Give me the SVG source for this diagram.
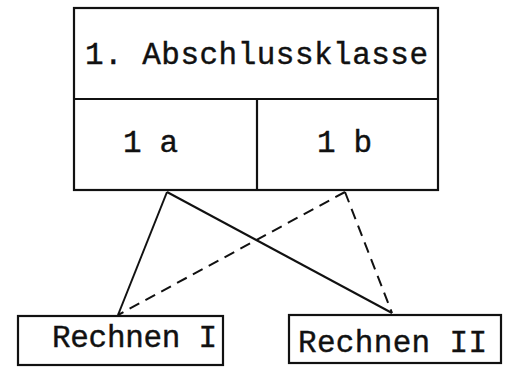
<svg xmlns="http://www.w3.org/2000/svg" width="510" height="369" viewBox="0 0 510 369">
  <style>
    .box { fill: none; stroke: #111; stroke-width: 2.2; }
    .lbl { font-family: "Liberation Mono", "DejaVu Sans Mono", monospace; font-size: 31px; fill: #111; stroke: #111; stroke-width: 0.4; }
    .edge { stroke: #111; stroke-width: 2; fill: none; }
    .dash { stroke-dasharray: 11 7; }
  </style>
  <rect width="510" height="369" fill="#fff"/>
  <g id="klasse">
    <rect class="box" x="74" y="8" width="364" height="182"/>
    <line class="box" x1="74" y1="99" x2="438" y2="99"/>
    <text class="lbl" x="85" y="64" textLength="343" lengthAdjust="spacing">1. Abschlussklasse</text>
  </g>
  <g id="klasse-1a">
    <line class="box" x1="257" y1="99" x2="257" y2="190"/>
    <text class="lbl" x="123" y="152" textLength="55" lengthAdjust="spacing">1 a</text>
  </g>
  <g id="klasse-1b">
    <text class="lbl" x="317" y="152" textLength="55" lengthAdjust="spacing">1 b</text>
  </g>
  <g id="rechnen-1">
    <rect class="box" x="18" y="316" width="205" height="49"/>
    <text class="lbl" x="52" y="347" textLength="165" lengthAdjust="spacing">Rechnen I</text>
  </g>
  <g id="rechnen-2">
    <rect class="box" x="289" y="315" width="212" height="48"/>
    <text class="lbl" x="298" y="352" textLength="189" lengthAdjust="spacing">Rechnen II</text>
  </g>
  <g id="connectors">
    <line class="edge" x1="167" y1="192" x2="118" y2="315"/>
    <line class="edge" x1="167" y1="192" x2="392" y2="313"/>
    <line class="edge dash" x1="345" y1="192" x2="118" y2="315"/>
    <line class="edge dash" x1="345" y1="192" x2="392" y2="313"/>
  </g>
</svg>
